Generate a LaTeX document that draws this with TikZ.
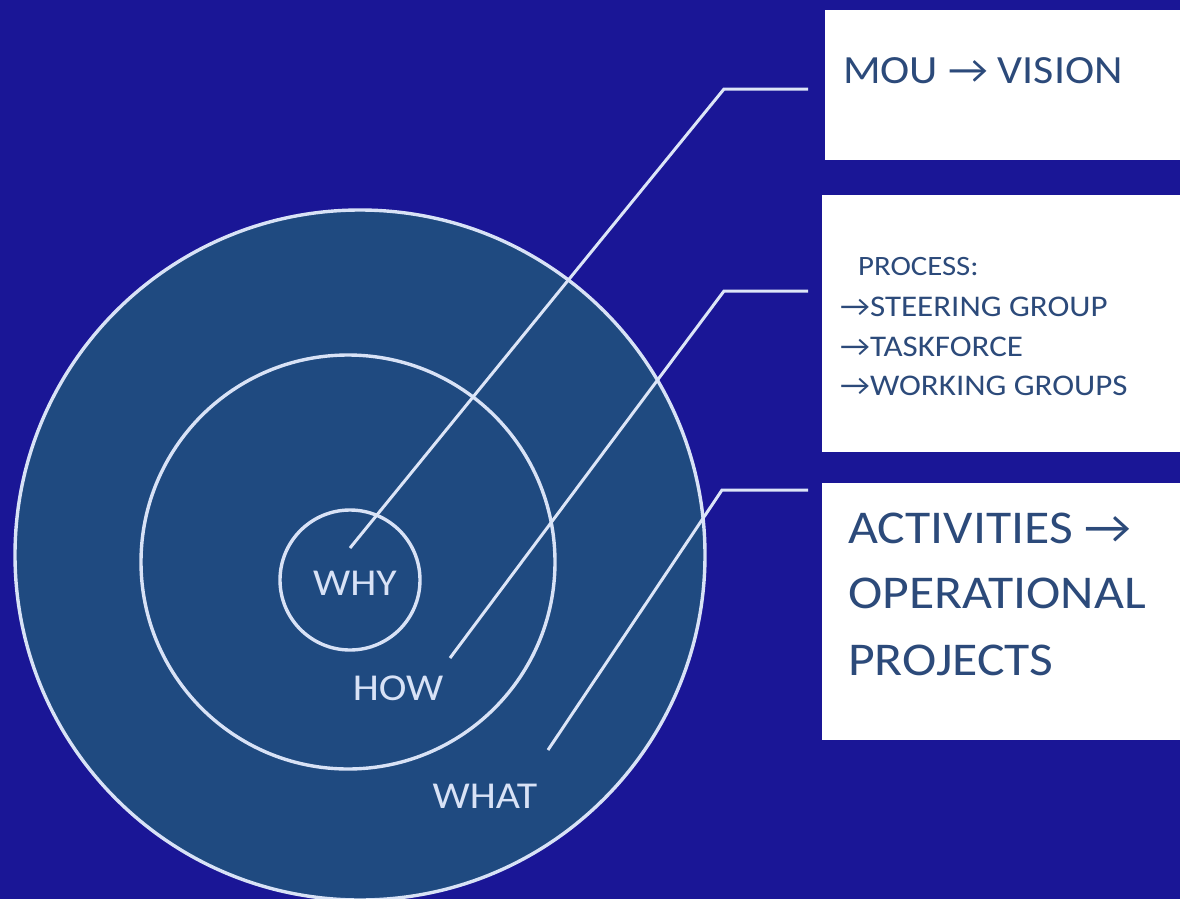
\documentclass[tikz,border=0pt]{standalone}
\usepackage{fontspec}
\setmainfont[FakeStretch=1.1]{Carlito}
\definecolor{bg}{HTML}{1A1696}
\definecolor{disc}{HTML}{1F4A80}
\definecolor{ring}{HTML}{D8E2F6}
\definecolor{boxtext}{HTML}{2C4A7A}
\tikzset{
  ringline/.style={draw=ring,line width=3.4pt},
  conn/.style={draw=ring!90!white,line width=3pt},
  whitebox/.style={fill=white,draw=none},
  ctext/.style={text=ring,font=\fontsize{38}{40}\selectfont,inner sep=0pt},
  btext/.style={text=boxtext,anchor=base west,inner sep=0pt},
}
\begin{document}
\begin{tikzpicture}[x=1pt,y=-1pt]
\useasboundingbox (0,0) rectangle (1180,899);
\fill[bg] (0,0) rectangle (1180,899);
% circles
\begin{scope}
\clip (0,0) rectangle (1180,899);
\fill[disc] (360,555) circle (345);
\draw[ringline] (360,555) circle (345);
\end{scope}
\draw[ringline] (348,562) circle (207);
\draw[ringline] (350,580) circle (70);
% boxes
\path[whitebox] (825,10) rectangle (1180,160);
\path[whitebox] (822,195) rectangle (1180,452);
\path[whitebox] (822,483) rectangle (1180,740);
% circle labels
\node[ctext] (why) at (355,583) {WHY};
\node[ctext] (how) at (398,688) {HOW};
\node[ctext] (what) at (485,796) {WHAT};
% box texts
\node[btext,font=\fontsize{40}{44}\selectfont] (mou) at (843,83) {MOU → VISION};
\node[btext,font=\fontsize{28}{30}\selectfont] (proc) at (858,275) {PROCESS:};
\node[btext,font=\fontsize{30}{32}\selectfont] (steer) at (840,316) {→STEERING GROUP};
\node[btext,font=\fontsize{30}{32}\selectfont] (task) at (840,356) {→TASKFORCE};
\node[btext,font=\fontsize{30}{32}\selectfont] (work) at (840,395) {→WORKING GROUPS};
\node[btext,font=\fontsize{47}{50}\selectfont] (act) at (848,543) {ACTIVITIES →};
\node[btext,font=\fontsize{47}{50}\selectfont] (oper) at (848,608) {OPERATIONAL};
\node[btext,font=\fontsize{47}{50}\selectfont] (proj) at (848,675) {PROJECTS};
% connectors
\coordinate (s1) at (350,548);
\coordinate (k1) at (724,89);
\coordinate (e1) at (808,89);
\coordinate (s2) at (450,658);
\coordinate (k2) at (724,291);
\coordinate (e2) at (808,291);
\coordinate (s3) at (548,750);
\coordinate (k3) at (722,490);
\coordinate (e3) at (808,490);
\draw[conn] (s1) -- (k1) -- (e1);
\draw[conn] (s2) -- (k2) -- (e2);
\draw[conn] (s3) -- (k3) -- (e3);
\end{tikzpicture}
\end{document}
